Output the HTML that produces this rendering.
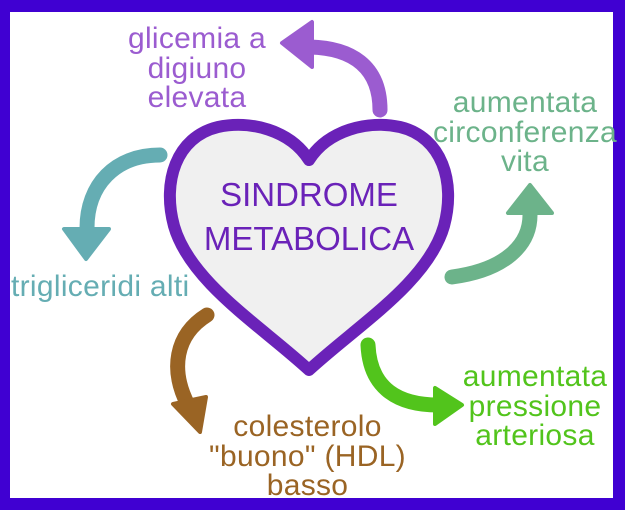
<!DOCTYPE html>
<html><head><meta charset="utf-8"><style>
html,body{margin:0;padding:0}
body{width:625px;height:510px;background:#4000d2;position:relative;overflow:hidden;font-family:"Liberation Sans","DejaVu Sans",sans-serif}
.panel{position:absolute;left:10px;top:12px;width:603px;height:486px;background:#fff}
.t{position:absolute;font-size:30px;line-height:29.5px;text-align:center;white-space:nowrap;letter-spacing:0.3px}
</style></head><body>
<div class="panel"></div>
<svg width="625" height="510" style="position:absolute;left:0;top:0">
<path d="M309,160 C290,130 250,120 218,127 C176,137 162,182 174,226 C190,282 260,325 309,370 C358,325 428,282 444,226 C456,182 442,137 400,127 C368,120 328,130 309,160 Z" fill="#f0f0f0" stroke="#6a22b8" stroke-width="12" stroke-linejoin="round"/>
<g fill="none" stroke-width="15" stroke-linecap="round">
<path d="M380,110 C380,65 350,48 310,47" stroke="#9b5cd0"/>
<path d="M160,155 C115,155 87,185 87,228" stroke="#65adb3"/>
<path d="M452,277 C505,270 530,245 530,215" stroke="#6cb38a"/>
<path d="M207,315 C175,335 170,370 188,405" stroke="#9a6424"/>
<path d="M368,345 C370,390 400,405 438,405" stroke="#52c41c"/>
</g>
<g stroke-linejoin="round" stroke-width="4">
<polygon points="282,43 312,22 312,67" fill="#9b5cd0" stroke="#9b5cd0"/>
<polygon points="64,229 109,229 86,259" fill="#65adb3" stroke="#65adb3"/>
<polygon points="530,185 508,213 552,213" fill="#6cb38a" stroke="#6cb38a"/>
<polygon points="173,404 206,397 200,432" fill="#9a6424" stroke="#9a6424"/>
<polygon points="462,405 435,388 435,424" fill="#52c41c" stroke="#52c41c"/>
</g>
<text x="309" y="206" font-size="33" fill="#6a22b8" text-anchor="middle" font-family="Liberation Sans, sans-serif">SINDROME</text>
<text x="309" y="250" font-size="33" fill="#6a22b8" text-anchor="middle" font-family="Liberation Sans, sans-serif">METABOLICA</text>
</svg>
<div class="t" style="left:107px;top:24px;width:180px;color:#9b5cd0">glicemia a<br>digiuno<br>elevata</div>
<div class="t" style="left:420px;top:88px;width:210px;color:#6cb38a">aumentata<br>circonferenza<br>vita</div>
<div class="t" style="left:11px;top:272px;color:#65adb3">trigliceridi alti</div>
<div class="t" style="left:200px;top:412px;width:215px;color:#9a6424">colesterolo<br>"buono" (HDL)<br>basso</div>
<div class="t" style="left:450px;top:362px;width:170px;color:#52c41c">aumentata<br>pressione<br>arteriosa</div>
</body></html>
